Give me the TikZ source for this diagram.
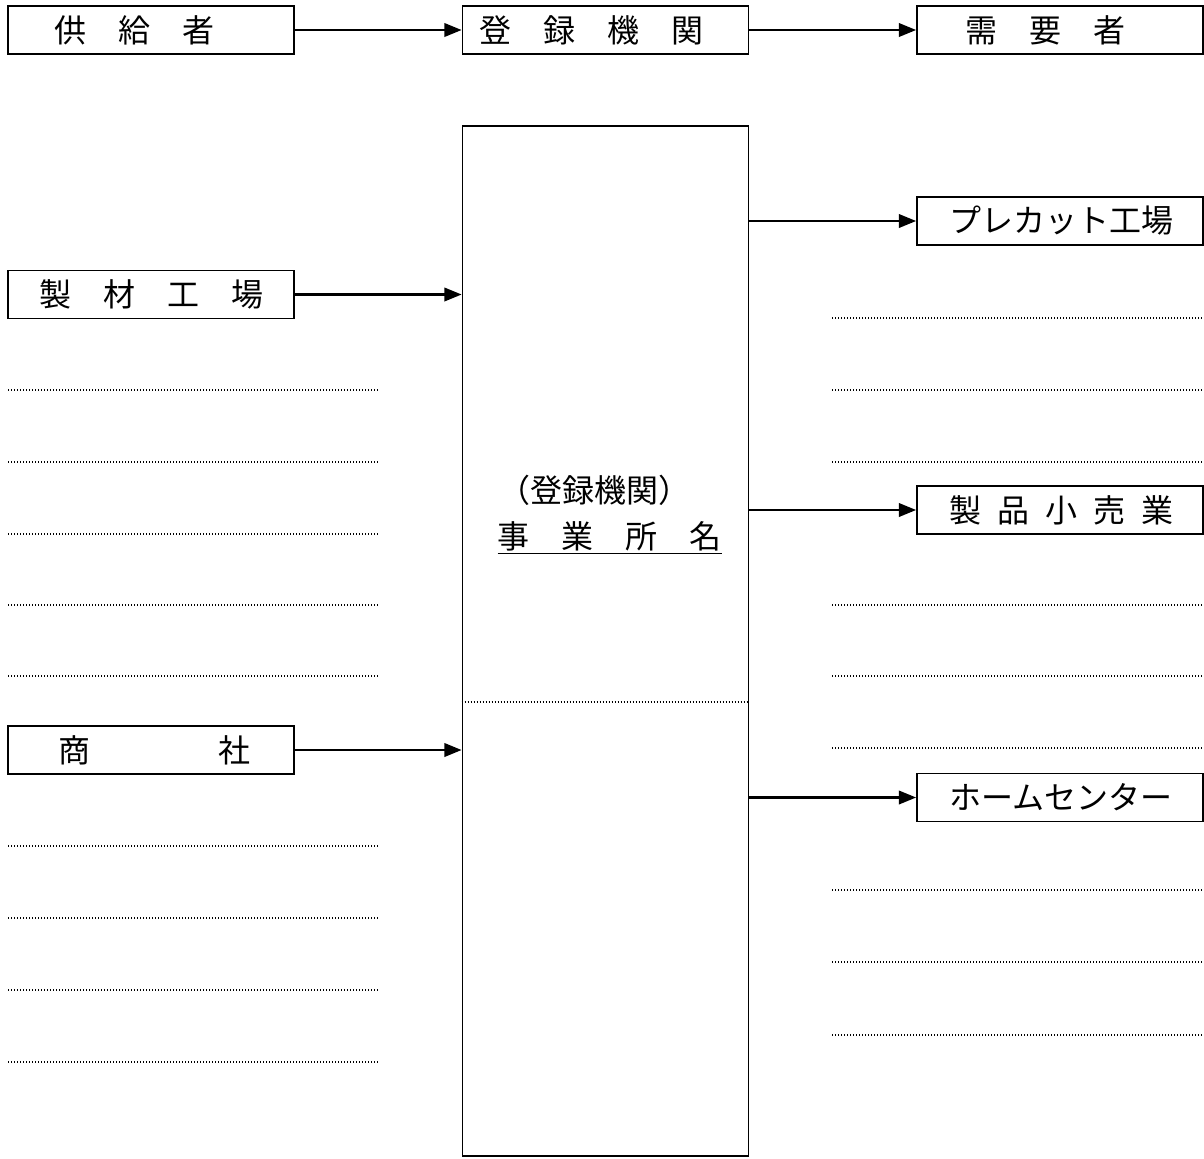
\documentclass[tikz,border=0pt]{standalone}
\usepackage{fontspec}
\newfontfamily\jpfont{Noto Sans CJK JP}
\usetikzlibrary{positioning, arrows.meta}
\newlength{\boxw}\setlength{\boxw}{214.5pt}
\newcommand{\inbox}[2]{\makebox[\boxw][l]{\hspace*{#1}#2}}
\newcommand{\hs}{\hspace{0.5em}}
\tikzset{
    every node/.style={font=\jpfont\fontsize{24}{28}\selectfont},
    box/.style={draw, line width=1.2pt, minimum width=\boxw, minimum height=36pt, inner sep=0pt},
    flow/.style={-{Triangle[length=13pt,width=10pt]}, line width=2pt},
    blank/.style={line width=1pt, dash pattern=on 0.75pt off 1.5pt},
}
\begin{document}
\begin{tikzpicture}[x=0.75pt, y=-0.75pt]
    \useasboundingbox (0,0) rectangle (1204,1158);

    % top row
    \node[box] (sup) at (151,30) {\inbox{35pt}{供　給　者}};
    \node[box] (reg) at (605.5,30) {\inbox{13pt}{登　録　機　関}};
    \node[box] (dem) at (1060,30) {\inbox{36pt}{需　要　者}};
    \draw[flow] (sup) -- (reg);
    \draw[flow] (reg) -- (dem);

    % office
    \node[box, minimum height=772.5pt] (office) at (605.5,641) {};
    \node[inner sep=0pt] (orgname) at (594,490) {（登録機関）};
    \node[inner sep=0pt] (office name) at (609.5,538) {\underline{事　業　所　名}};
    \coordinate (split) at (605.5,702);
    \draw[blank] (split -| office.west) -- (split -| office.east);

    % suppliers
    \node[box] (mill) at (151,294.5) {\inbox{24pt}{製　材　工　場}};
    \node[box] (trader) at (151,750) {\inbox{38pt}{商　　　　社}};
    \draw[flow] (mill) -- (mill -| office.west);
    \draw[flow] (trader) -- (trader -| office.west);

    % customers
    \node[box] (precut) at (1060,221) {\inbox{24pt}{プレカット工場}};
    \node[box] (retail) at (1060,510) {\inbox{24pt}{製\hs 品\hs 小\hs 売\hs 業}};
    \node[box] (home) at (1060,797.5) {\inbox{24pt}{ホームセンター}};
    \draw[flow] (precut -| office.east) -- (precut);
    \draw[flow] (retail -| office.east) -- (retail);
    \draw[flow] (home -| office.east) -- (home);

    % blank lines
    \foreach \y in {390,462,534,605,676,846,918,990,1062}
        \draw[blank] (8,\y) -- (378,\y);
    \foreach \y in {318,390,462,605,676,748,890,962,1035}
        \draw[blank] (832,\y) -- (1202,\y);
\end{tikzpicture}
\end{document}
